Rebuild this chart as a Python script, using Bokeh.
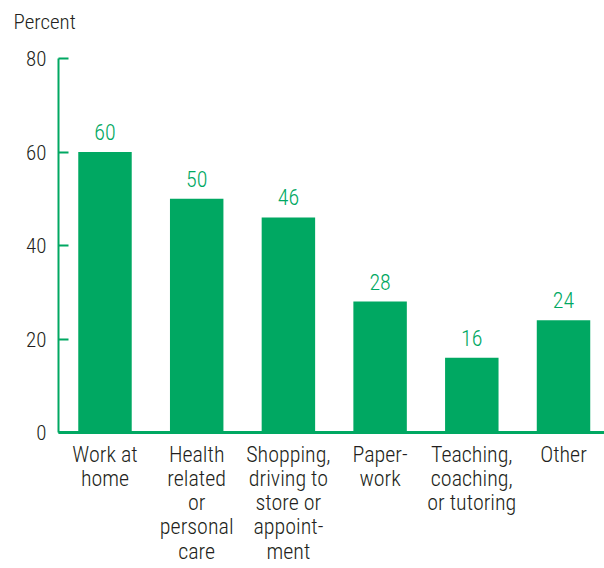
from bokeh.plotting import figure
from bokeh.models import Range1d, FixedTicker, ColumnDataSource, Title
from bokeh.embed import file_html
from bokeh.resources import INLINE
from bokeh.core.properties import value

categories = ["Work at\nhome", "Health\nrelated\nor\npersonal\ncare",
              "Shopping,\ndriving to\nstore or\nappoint-\nment",
              "Paper-\nwork", "Teaching,\ncoaching,\nor tutoring", "Other"]
values = [60, 50, 46, 28, 16, 24]
y_ticks = [0, 20, 40, 60, 80]

GREEN = "#00a862"
DARK = "#231f20"
FONT = "'Roboto Condensed Light', 'Roboto Condensed', 'Liberation Sans Narrow', Roboto, sans-serif"

xs = list(range(len(categories)))
src = ColumnDataSource(dict(x=xs, top=values, lab=[str(v) for v in values]))

p = figure(width=604, height=568, output_backend="svg", toolbar_location=None,
           title=None,
           x_range=Range1d(-0.507, 5.447), y_range=Range1d(0, 80),
           min_border_left=58, min_border_right=0, min_border_top=58,
           min_border_bottom=136)
p.outline_line_color = None
p.xgrid.grid_line_color = None
p.ygrid.grid_line_color = None

# spacer between the unit label and the plot frame
p.add_layout(Title(text=" ", text_font_size="10px", standoff=6), "above")
# unit label "Percent" above the y axis
p.add_layout(Title(text="Percent", align="left", offset=-45, text_font=FONT,
                   text_font_size="21px", text_font_style="normal",
                   text_color=DARK, standoff=12), "above")

p.vbar(x="x", top="top", bottom=0, width=0.583, source=src,
       fill_color=GREEN, line_color=None)
p.text(x="x", y="top", text="lab", source=src, text_align="center",
       text_baseline="alphabetic", y_offset=-20, text_color=GREEN,
       text_font=value(FONT), text_font_size="22px")

# y axis
ya = p.yaxis[0]
ya.ticker = FixedTicker(ticks=y_ticks)
ya.axis_line_color = GREEN
ya.axis_line_width = 2
ya.major_tick_line_color = GREEN
ya.major_tick_line_width = 2
ya.major_tick_in = 10
ya.major_tick_out = 0
ya.minor_tick_line_color = None
ya.major_label_text_font = FONT
ya.major_label_text_font_size = "21px"
ya.major_label_text_color = DARK
ya.major_label_standoff = 12

# x axis
xa = p.xaxis[0]
xa.ticker = FixedTicker(ticks=xs)
xa.major_label_overrides = {i: c for i, c in enumerate(categories)}
xa.axis_line_color = GREEN
xa.axis_line_width = 3
xa.major_tick_line_color = None
xa.minor_tick_line_color = None
xa.major_label_text_font = FONT
xa.major_label_text_font_size = "22px"
xa.major_label_text_line_height = 0.97
xa.major_label_text_color = DARK
xa.major_label_standoff = 3

open("out.html", "w").write(file_html(p, INLINE))
